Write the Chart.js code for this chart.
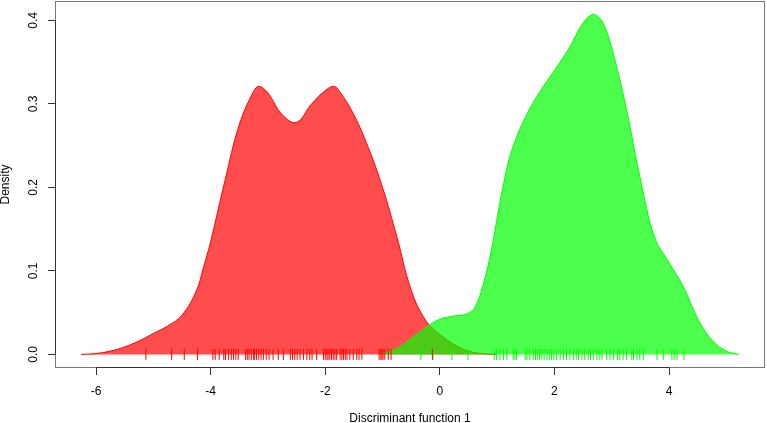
<!DOCTYPE html>
<html>
<head>
<meta charset="utf-8">
<script src="https://cdn.jsdelivr.net/npm/chart.js@4"></script>
<style>
  html, body { margin: 0; padding: 0; background: #fff; }
  canvas { display: block; }
</style>
</head>
<body>
<canvas id="chart" width="767" height="423"></canvas>
<script>
// density of group 1 (red)
const redX = [-6.26, -6.0, -5.75, -5.5, -5.25, -5.0, -4.75, -4.5, -4.25, -4.125, -4.0, -3.75, -3.5, -3.25, -3.15,
  -3.0, -2.75, -2.5, -2.25, -2.0, -1.85, -1.75, -1.5, -1.25, -1.0, -0.75, -0.5, -0.25, 0.0, 0.25, 0.5, 0.75, 1.0];
const redY = [0, 0.001, 0.004, 0.009, 0.016, 0.025, 0.034, 0.047, 0.076, 0.104, 0.135, 0.208, 0.275, 0.315, 0.321,
  0.313, 0.287, 0.278, 0.299, 0.316, 0.321, 0.315, 0.287, 0.248, 0.200, 0.141, 0.077, 0.041, 0.024, 0.012, 0.004, 0.001, 0];

// density of group 2 (green)
const greenX = [-1.05, -0.75, -0.5, -0.25, 0.0, 0.25, 0.45, 0.6, 0.75, 0.9, 1.0, 1.1, 1.25, 1.5, 1.75, 2.0, 2.25,
  2.5, 2.66, 2.75, 2.85, 3.0, 3.25, 3.5, 3.75, 4.0, 4.25, 4.5, 4.75, 5.0, 5.22];
const greenY = [0, 0.007, 0.019, 0.032, 0.042, 0.046, 0.048, 0.055, 0.082, 0.125, 0.163, 0.200, 0.243, 0.285, 0.315,
  0.340, 0.366, 0.397, 0.407, 0.405, 0.397, 0.367, 0.296, 0.210, 0.140, 0.110, 0.081, 0.043, 0.017, 0.004, 0];

// individual scores (rug)
const redRug = [-5.13, -4.68, -4.46, -4.23, -3.96, -3.92, -3.85, -3.77, -3.74, -3.69, -3.64, -3.60, -3.56, -3.52,
  -3.39, -3.36, -3.33, -3.29, -3.25, -3.23, -3.20, -3.16, -3.12, -3.08, -3.03, -2.98, -2.91, -2.82, -2.73,
  -2.61, -2.57, -2.53, -2.49, -2.44, -2.38, -2.32, -2.27, -2.23, -2.15, -2.03, -2.00, -1.97, -1.95, -1.92,
  -1.89, -1.86, -1.83, -1.80, -1.74, -1.71, -1.68, -1.65, -1.62, -1.57, -1.51, -1.45, -1.41, -1.36,
  -1.06, -1.03, -1.01, -0.99, -0.96, -0.90, -0.85, -0.13];
const greenRug = [-0.33, -0.12, 0.21, 0.49, 0.95, 0.99, 1.05, 1.11, 1.17, 1.28, 1.31, 1.34, 1.49, 1.52, 1.57, 1.63,
  1.67, 1.70, 1.74, 1.78, 1.82, 1.87, 1.91, 1.95, 1.99, 2.04, 2.10, 2.16, 2.21, 2.27, 2.33, 2.38, 2.42,
  2.48, 2.53, 2.59, 2.63, 2.68, 2.74, 2.78, 2.83, 2.91, 2.97, 3.03, 3.10, 3.14, 3.20, 3.26, 3.35, 3.38,
  3.44, 3.49, 3.55, 3.79, 3.90, 4.05, 4.09, 4.14, 4.26];

const xTicks = [-6, -4, -2, 0, 2, 4];
const yTicks = [0.0, 0.1, 0.2, 0.3, 0.4];
const xTitle = "Discriminant function 1";
const yTitle = "Density";

const toPoints = (xs, ys) => xs.map((x, i) => ({x: x, y: ys[i]}));
const rugPoints = (xs) => xs.map((x) => ({x: x, y: 0}));

const FONT = {family: "'Liberation Sans', Arial, sans-serif", size: 12};

// box round the plot and the short axis lines, like base R
const boxPlugin = {
    id: "rbox",
    afterDraw(chart) {
        const ctx = chart.ctx;
        const a = chart.chartArea;
        const xs = chart.scales.x, ys = chart.scales.y;
        ctx.save();
        ctx.lineWidth = 1;
        ctx.strokeStyle = "#777";
        ctx.strokeRect(Math.round(a.left) + 0.5, Math.round(a.top) + 0.5,
            Math.round(a.right - a.left) - 1, Math.round(a.bottom - a.top) - 1);
        ctx.strokeStyle = "#333";
        ctx.beginPath();
        const bx = Math.round(a.left) + 0.5;
        ctx.moveTo(bx, Math.round(ys.getPixelForValue(yTicks[0])) + 0.5);
        ctx.lineTo(bx, Math.round(ys.getPixelForValue(yTicks[yTicks.length - 1])) + 0.5);
        const by = Math.round(a.bottom) - 0.5;
        ctx.moveTo(Math.round(xs.getPixelForValue(xTicks[0])) + 0.5, by);
        ctx.lineTo(Math.round(xs.getPixelForValue(xTicks[xTicks.length - 1])) + 0.5, by);
        ctx.stroke();
        ctx.restore();
    }
};

const ctx = document.getElementById("chart").getContext("2d");
new Chart(ctx, {
    type: "line",
    data: {
        datasets: [
            {
                type: "scatter",
                data: rugPoints(redRug),
                pointStyle: "line",
                rotation: 90,
                radius: 5.5,
                hoverRadius: 5.5,
                borderColor: "#ff0000",
                borderWidth: 1,
                order: 0,
            },
            {
                type: "scatter",
                data: rugPoints(greenRug),
                pointStyle: "line",
                rotation: 90,
                radius: 5.5,
                hoverRadius: 5.5,
                borderColor: "#00ff00",
                borderWidth: 1,
                order: 0,
            },
            {
                data: toPoints(greenX, greenY),
                borderColor: "#00ff00",
                backgroundColor: "rgba(0, 255, 0, 0.7)",
                borderWidth: 1,
                fill: "origin",
                pointRadius: 0,
                tension: 0.4,
                order: 1,
            },
            {
                data: toPoints(redX, redY),
                borderColor: "#ff0000",
                backgroundColor: "rgba(255, 0, 0, 0.7)",
                borderWidth: 1,
                fill: "origin",
                pointRadius: 0,
                tension: 0.4,
                order: 2,
            },
        ],
    },
    options: {
        responsive: false,
        animation: false,
        events: [],
        layout: {autoPadding: false, padding: {top: 1, right: 2, left: 0, bottom: 0}},
        plugins: {
            legend: {display: false},
            tooltip: {enabled: false},
        },
        scales: {
            x: {
                type: "linear",
                min: -6.716,
                max: 5.675,
                afterBuildTicks: (scale) => { scale.ticks = xTicks.map((v) => ({value: v})); },
                afterFit: (scale) => {
                    scale.height = 55;
                    scale.paddingLeft = 0;
                    scale.paddingRight = 0;
                },
                ticks: {
                    font: FONT,
                    color: "#000",
                    padding: 9,
                    maxRotation: 0,
                    callback: (v) => String(v),
                },
                grid: {drawOnChartArea: false, drawTicks: true, tickLength: 7, tickColor: "#333"},
                border: {display: false},
                title: {display: true, text: xTitle, font: {...FONT, lineHeight: 1}, color: "#000", padding: {top: 0, bottom: -2}},
            },
            y: {
                type: "linear",
                min: -0.0163,
                max: 0.4233,
                afterBuildTicks: (scale) => { scale.ticks = yTicks.map((v) => ({value: v})); },
                afterFit: (scale) => {
                    scale.width = 55;
                    scale.paddingTop = 0;
                    scale.paddingBottom = 0;
                },
                ticks: {
                    font: FONT,
                    color: "#000",
                    padding: 6,
                    minRotation: 90,
                    maxRotation: 90,
                    crossAlign: "center",
                    callback: (v) => Number(v).toFixed(1),
                },
                grid: {drawOnChartArea: false, drawTicks: true, tickLength: 7, tickColor: "#333"},
                border: {display: false},
                title: {display: true, text: yTitle, font: {...FONT, lineHeight: 1}, color: "#000", padding: {top: 0, bottom: 0}},
            },
        },
    },
    plugins: [boxPlugin],
});
</script>
</body>
</html>
